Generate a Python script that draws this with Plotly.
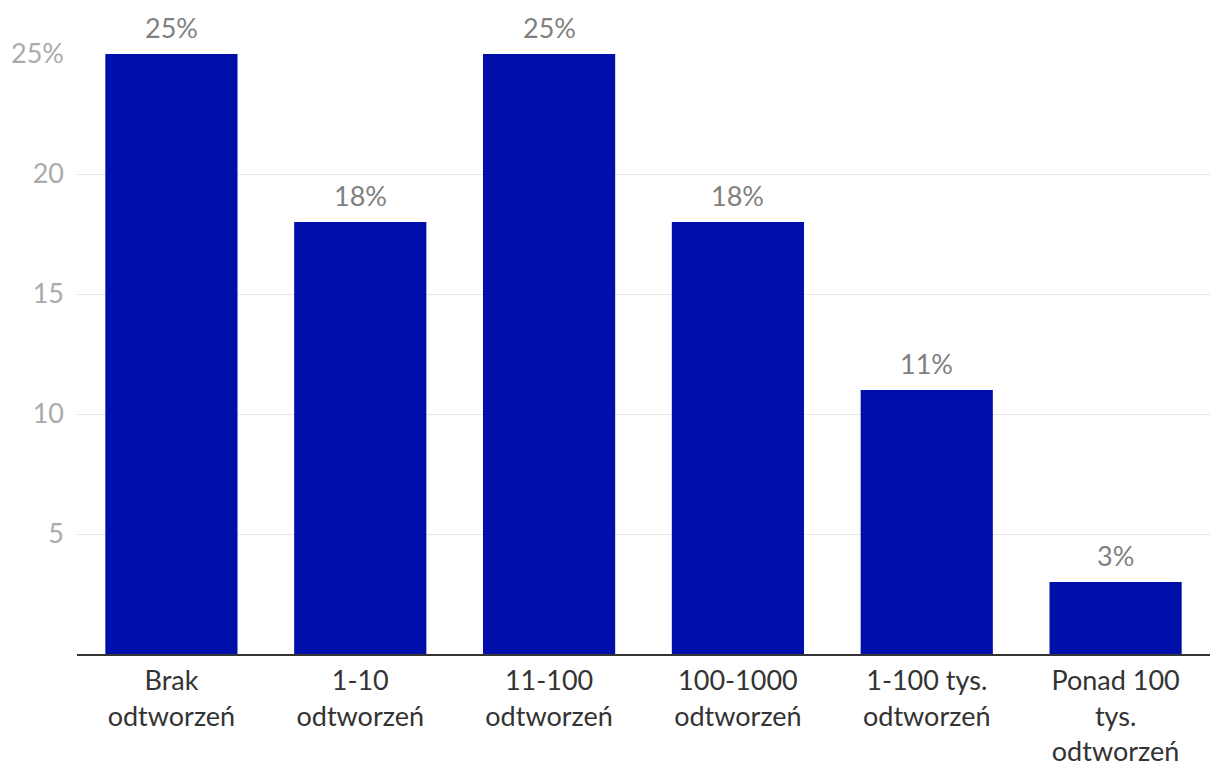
import plotly.graph_objects as go

categories = ["Brak<br>odtworzeń", "1-10<br>odtworzeń", "11-100<br>odtworzeń",
              "100-1000<br>odtworzeń", "1-100 tys.<br>odtworzeń", "Ponad 100<br>tys.<br>odtworzeń"]
values = [25, 18, 25, 18, 11, 3]
ytick_vals = [5, 10, 15, 20, 25]
ytick_text = ["5", "10", "15", "20", "25%"]

FS = 27
fig = go.Figure(go.Bar(
    x=categories, y=values,
    marker=dict(color="#000EAA", line=dict(width=0)),
    hoverinfo="x+y",
))
for c, v in zip(categories, values):
    fig.add_annotation(x=c, y=v, text=f"{v}%", showarrow=False, yanchor="bottom",
                       yshift=8, font=dict(family="Lato", size=FS, color="#808080"))
fig.update_layout(
    width=1220, height=782,
    margin=dict(l=77, r=10, t=54, b=128),
    plot_bgcolor="white", paper_bgcolor="white",
    bargap=0.3,
    font=dict(family="Lato", size=FS, color="#333333"),
    showlegend=False,
    xaxis=dict(showgrid=False, showline=True, linecolor="#333333", linewidth=2,
               tickfont=dict(size=FS, color="#333333"), ticks="", ticklabelstandoff=2),
    yaxis=dict(range=[0, 25], tickvals=ytick_vals, ticktext=ytick_text,
               showgrid=True, gridcolor="#e6e6e6", gridwidth=1, zeroline=False,
               tickfont=dict(size=FS, color="#aaaaaa"), ticklabelstandoff=12),
)
fig.write_html("out.html")
